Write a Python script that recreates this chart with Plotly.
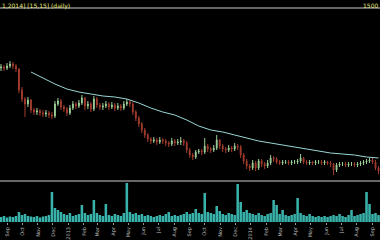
import pandas as pd
import plotly.graph_objects as go

# ---- data ----
start_date = "2012-08-19"
n_bars = 127
dates = pd.date_range(start_date, periods=n_bars, freq="6D")

opens = [12.2, 12.3, 12.2, 12.4, 12.6, 12.4, 12.1, 10.0, 9.1, 8.6,
         9.0, 8.0, 7.8, 7.9, 7.7, 7.6, 7.7, 7.5, 7.4, 8.6,
         8.9, 8.3, 8.1, 7.7, 8.2, 8.6, 8.4, 8.7, 9.2, 8.4,
         8.6, 8.1, 9.1, 8.5, 8.3, 8.4, 8.6, 8.3, 8.5, 8.2,
         8.4, 8.2, 8.6, 8.8, 8.6, 7.8, 7.2, 6.6, 6.0, 5.5,
         5.1, 4.9, 5.0, 4.8, 5.0, 4.9, 4.7, 4.6, 4.9, 4.7,
         4.8, 4.9, 4.7, 4.0, 3.5, 3.3, 3.8, 3.9, 3.8, 4.4,
         4.1, 4.0, 4.2, 5.0, 4.4, 4.1, 4.0, 4.2, 4.1, 4.4,
         4.3, 3.5, 2.9, 2.4, 2.2, 2.7, 2.2, 2.9, 2.6, 2.4,
         2.7, 3.2, 3.1, 2.8, 2.7, 2.8, 2.8, 2.7, 2.8, 2.8,
         2.9, 3.2, 2.8, 2.7, 2.8, 2.7, 2.8, 2.8, 2.7, 2.8,
         2.7, 2.6, 2.0, 2.5, 2.6, 2.6, 2.5, 2.6, 2.6, 2.5,
         2.6, 2.7, 2.8, 2.9, 3.0, 2.8, 2.2]
highs = [12.6, 12.5, 12.7, 12.9, 12.8, 12.6, 12.2, 10.3, 9.3, 9.3,
         9.1, 8.2, 8.2, 8.1, 8.0, 8.0, 7.9, 7.8, 8.9, 9.2,
         9.1, 8.5, 8.3, 8.5, 8.9, 8.8, 9.0, 9.5, 9.3, 8.9,
         8.8, 9.4, 9.3, 8.7, 8.7, 8.9, 8.8, 8.8, 8.7, 8.7,
         8.6, 8.9, 9.1, 9.0, 8.8, 8.0, 7.4, 6.8, 6.2, 5.7,
         5.3, 5.3, 5.2, 5.3, 5.2, 5.1, 4.9, 5.2, 5.1, 5.1,
         5.3, 5.1, 4.9, 4.2, 3.7, 4.0, 4.1, 4.1, 5.2, 4.6,
         4.3, 4.5, 5.5, 5.1, 4.6, 4.3, 4.5, 4.4, 4.7, 4.6,
         4.5, 3.7, 3.1, 2.6, 3.0, 2.9, 3.1, 3.1, 2.8, 3.0,
         3.5, 3.4, 3.3, 3.0, 3.0, 3.0, 3.0, 3.0, 3.0, 3.1,
         3.6, 3.3, 3.0, 3.0, 2.9, 3.0, 3.0, 3.0, 3.0, 2.9,
         2.9, 2.7, 2.7, 2.8, 2.8, 2.8, 2.8, 2.8, 2.8, 2.8,
         2.9, 3.0, 3.1, 3.2, 3.2, 3.0, 2.4]
lows = [11.9, 11.9, 12.0, 12.2, 12.1, 11.8, 9.7, 8.8, 7.3, 8.3,
        7.7, 7.5, 7.5, 7.4, 7.3, 7.3, 7.2, 7.1, 7.2, 8.4,
        8.0, 7.8, 7.4, 7.5, 8.0, 8.1, 8.2, 8.5, 8.0, 8.1,
        7.8, 7.9, 8.2, 8.0, 8.0, 8.2, 8.0, 8.1, 7.9, 8.0,
        7.9, 8.0, 8.4, 8.3, 7.5, 6.9, 6.3, 5.7, 5.2, 4.8,
        4.6, 4.7, 4.5, 4.6, 4.6, 4.4, 4.3, 4.4, 4.4, 4.5,
        4.5, 4.4, 3.7, 3.2, 3.0, 3.1, 3.6, 3.5, 3.6, 3.8,
        3.7, 3.8, 4.0, 4.1, 3.8, 3.7, 3.8, 3.8, 3.9, 4.0,
        3.2, 2.6, 2.1, 1.9, 2.0, 1.9, 2.0, 2.3, 2.1, 2.2,
        2.5, 2.8, 2.6, 2.5, 2.5, 2.6, 2.5, 2.5, 2.6, 2.6,
        2.7, 2.6, 2.5, 2.5, 2.5, 2.5, 2.6, 2.5, 2.5, 2.5,
        2.3, 1.5, 1.8, 2.3, 2.4, 2.3, 2.3, 2.4, 2.3, 2.3,
        2.4, 2.5, 2.6, 2.7, 2.6, 2.0, 1.6]
closes = [12.3, 12.2, 12.4, 12.6, 12.4, 12.1, 10.0, 9.1, 8.6, 9.0,
          8.0, 7.8, 7.9, 7.7, 7.6, 7.7, 7.5, 7.4, 8.6, 8.9,
          8.3, 8.1, 7.7, 8.2, 8.6, 8.4, 8.7, 9.2, 8.4, 8.6,
          8.1, 9.1, 8.5, 8.3, 8.4, 8.6, 8.3, 8.5, 8.2, 8.4,
          8.2, 8.6, 8.8, 8.6, 7.8, 7.2, 6.6, 6.0, 5.5, 5.1,
          4.9, 5.0, 4.8, 5.0, 4.9, 4.7, 4.6, 4.9, 4.7, 4.8,
          4.9, 4.7, 4.0, 3.5, 3.3, 3.8, 3.9, 3.8, 4.4, 4.1,
          4.0, 4.2, 5.0, 4.4, 4.1, 4.0, 4.2, 4.1, 4.4, 4.3,
          3.5, 2.9, 2.4, 2.2, 2.7, 2.2, 2.9, 2.6, 2.4, 2.7,
          3.2, 3.1, 2.8, 2.7, 2.8, 2.8, 2.7, 2.8, 2.8, 2.9,
          3.2, 2.8, 2.7, 2.8, 2.7, 2.8, 2.8, 2.7, 2.8, 2.7,
          2.6, 2.0, 2.5, 2.6, 2.6, 2.5, 2.6, 2.6, 2.5, 2.6,
          2.7, 2.8, 2.9, 3.0, 2.8, 2.2, 1.9]
volumes = [50, 60, 45, 55, 50, 60, 100, 70, 80, 60,
           55, 50, 60, 45, 55, 60, 70, 300, 140, 120,
           100, 80, 70, 90, 60, 70, 80, 170, 90, 70,
           80, 220, 90, 70, 60, 180, 70, 60, 80, 70,
           60, 90, 390, 100, 80, 90, 70, 80, 60, 70,
           60, 50, 60, 70, 60, 80, 100, 60, 70, 60,
           70, 80, 100, 80, 90, 130, 90, 80, 290, 100,
           90, 80, 160, 110, 80, 70, 90, 80, 70, 380,
           200, 100, 120, 90, 80, 70, 90, 70, 60, 80,
           90, 220, 170, 80, 120, 70, 60, 70, 80, 240,
           90, 70, 60, 80, 60, 50, 60, 50, 60, 50,
           60, 70, 60, 80, 60, 50, 70, 120, 60, 70,
           80, 90, 300, 180, 80, 90, 70]
# moving average, sampled every 4th bar starting at bar 10
ma_start, ma_step = 10, 4
ma_values = [11.8, 11.2, 10.6, 10.1, 9.8, 9.6, 9.4, 9.3, 9.1, 8.7,
             8.2, 7.8, 7.5, 7.0, 6.4, 6.0, 5.8, 5.5, 5.2, 4.9,
             4.7, 4.5, 4.3, 4.1, 3.9, 3.7, 3.6, 3.5, 3.3, 3.2]
ma_dates = [dates[i] for i in range(ma_start, n_bars, ma_step)]

tick_dates = pd.date_range("2012-09-01", "2014-09-01", freq="MS")
tick_labels = [("%d" % d.year) if d.month == 1 else d.strftime("%b") for d in tick_dates]

title_left = "1,2014] [15,15] (daily)"
title_right = "1500"

# ---- figure ----
x_range = ["2012-08-17", "2014-09-17"]
fig = go.Figure()
fig.add_trace(go.Candlestick(
    x=dates, open=opens, high=highs, low=lows, close=closes,
    increasing=dict(line=dict(color="#9ccf98", width=1), fillcolor="#9ccf98"),
    decreasing=dict(line=dict(color="#a33c2e", width=1), fillcolor="#a33c2e"),
    whiskerwidth=0, xaxis="x", yaxis="y", showlegend=False))
fig.add_trace(go.Scatter(
    x=ma_dates, y=ma_values, mode="lines", line=dict(color="#9ad6d6", width=1),
    xaxis="x", yaxis="y", showlegend=False))
fig.add_trace(go.Bar(
    x=dates, y=volumes, marker=dict(color="#38b2aa", line=dict(width=0)),
    xaxis="x2", yaxis="y2", showlegend=False))

line_color = "#8a8a8a"
fig.update_layout(
    width=380, height=240, margin=dict(l=0, r=0, t=0, b=0),
    paper_bgcolor="black", plot_bgcolor="black",
    bargap=0.15, boxgap=0.6,
    xaxis=dict(domain=[0, 1], range=x_range, anchor="y", rangeslider=dict(visible=False),
               showticklabels=False, showgrid=False, zeroline=False, showline=False, ticks=""),
    yaxis=dict(domain=[0.25, 0.9625], range=[1.0, 18.1], visible=False),
    xaxis2=dict(domain=[0, 1], range=x_range, anchor="y2", showgrid=False, zeroline=False,
                showline=False, tickmode="array", tickvals=tick_dates, ticktext=tick_labels,
                tickangle=-90, ticks="outside", ticklen=2, tickcolor="#999999",
                tickfont=dict(size=5, color="#bdbdbd", family="DejaVu Sans")),
    yaxis2=dict(domain=[0.075, 0.2417], range=[0, 400], visible=False),
    shapes=[
        dict(type="line", xref="paper", yref="paper", x0=0, x1=1, y0=0.9667, y1=0.9667,
             line=dict(color=line_color, width=1.5)),
        dict(type="line", xref="paper", yref="paper", x0=0, x1=1, y0=0.2458, y1=0.2458,
             line=dict(color=line_color, width=1.5)),
    ],
    annotations=[
        dict(text=title_left, xref="paper", yref="paper", x=0, y=1, xanchor="left", yanchor="top",
             showarrow=False, font=dict(size=6, color="#e6e67a", family="DejaVu Sans")),
        dict(text=title_right, xref="paper", yref="paper", x=1, y=1, xanchor="right", yanchor="top",
             showarrow=False, font=dict(size=6, color="#e6e67a", family="DejaVu Sans")),
    ],
)
fig.write_html("out.html")
